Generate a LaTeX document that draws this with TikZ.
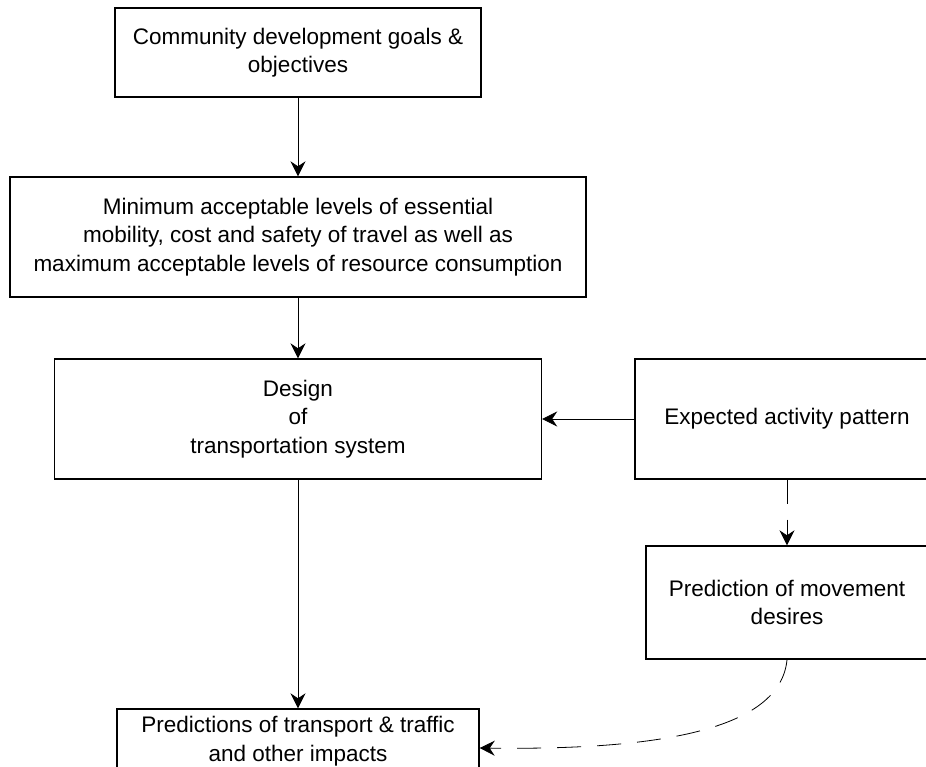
\documentclass[tikz,border=0pt]{standalone}
\usepackage{fontspec}
\setmainfont{Liberation Sans}
\usetikzlibrary{arrows.meta}

\begin{document}
\begin{tikzpicture}[x=1pt, y=-1pt,
        box/.style={draw, line width=1.4pt, align=center, inner sep=0pt, font=\fontsize{22.5}{28.5}\selectfont},
        flow/.style={draw=black, line width=0.8pt, -{Stealth[length=15pt, width=15pt, inset=5pt]}},
        guess/.style={flow, dash pattern=on 24pt off 16pt}]
        \useasboundingbox (0, 0) rectangle (926, 767);
        \clip (0, 0) rectangle (926, 767);

        \node[box, minimum width=366pt, minimum height=89pt] (goals) at (298, 52.5) {Community development goals \&\\objectives};
        \node[box, minimum width=576pt, minimum height=120pt] (minlevels) at (298, 237) {Minimum acceptable levels of essential\\mobility, cost and safety of travel as well as\\maximum acceptable levels of resource consumption};
        \node[box, minimum width=487pt, minimum height=120pt] (design) at (298, 419) {Design\\of\\transportation system};
        \node[box, minimum width=304pt, minimum height=120pt] (activity) at (787, 419) {Expected activity pattern};
        \node[box, minimum width=282pt, minimum height=113pt] (desires) at (787, 602.5) {Prediction of movement\\desires};
        \node[box, minimum width=362pt, minimum height=64pt] (impacts) at (298, 741) {Predictions of transport \& traffic\\and other impacts};

        \draw[flow] (goals) -- (minlevels);
        \draw[flow] (minlevels) -- (design);
        \draw[flow] (activity) -- (design);
        \draw[flow] (design) -- (impacts);
        \draw[guess] (activity) -- (desires);
        \draw[guess] (desires.south) .. controls (780, 735) and (640, 750) .. (impacts.east |- 0, 748);
\end{tikzpicture}
\end{document}
